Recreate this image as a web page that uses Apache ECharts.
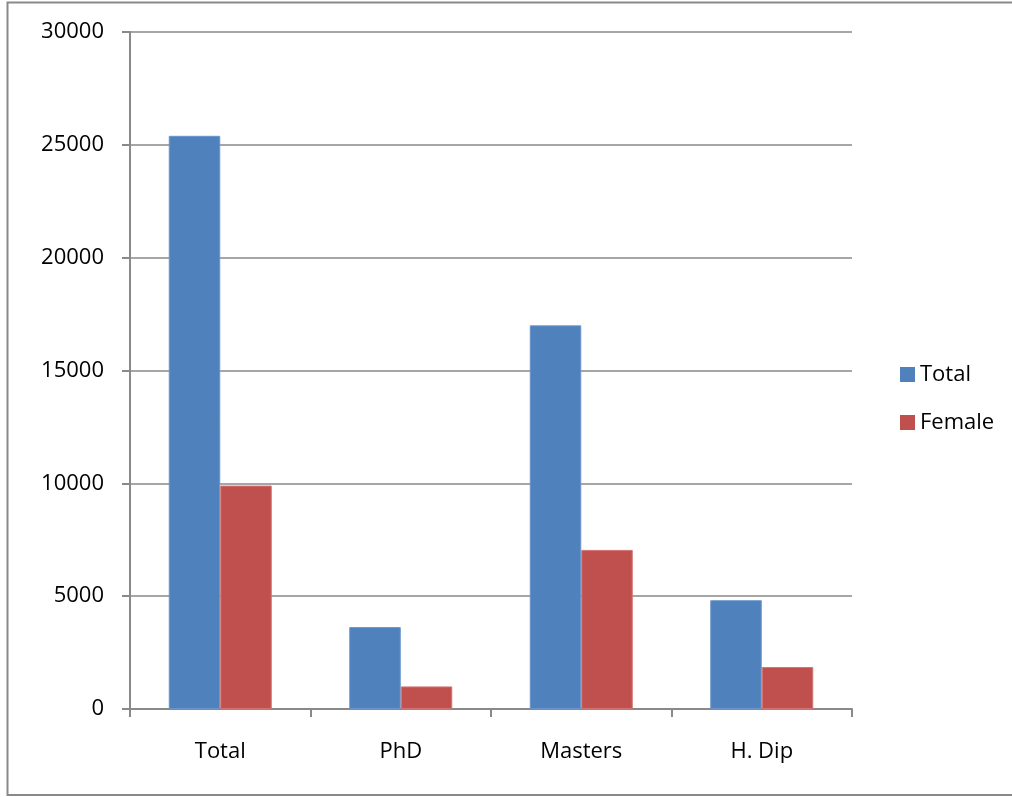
<!DOCTYPE html>
<html>
<head>
<meta charset="utf-8">
<script src="https://cdn.jsdelivr.net/npm/echarts@6/dist/echarts.min.js"></script>
<style>
  html, body { margin: 0; padding: 0; background: #fff; }
  #chart { width: 1012px; height: 797px; }
</style>
</head>
<body>
<div id="chart"></div>
<script>
// Degrees awarded, by level
const categories = ['Total', 'PhD', 'Masters', 'H. Dip'];
const totalValues = [25400, 3630, 17000, 4820];
const femaleValues = [9900, 1000, 7050, 1860];
const seriesNames = ['Total', 'Female'];

const FONT = '"Open Sans", "Noto Sans", sans-serif';
const GRID_GRAY = '#898989';

const chart = echarts.init(document.getElementById('chart'), null, { renderer: 'canvas' });

chart.setOption({
  animation: false,
  backgroundColor: '#ffffff',
  textStyle: { fontFamily: FONT, color: '#000' },
  graphic: [{
    type: 'rect',
    shape: { x: 7.5, y: 2.5, width: 1020, height: 792.5 },
    style: { fill: 'none', stroke: GRID_GRAY, lineWidth: 2 },
    silent: true
  }],
  grid: { left: 130, right: 160, top: 32, bottom: 88, containLabel: false },
  legend: {
    orient: 'vertical',
    left: 895,
    top: 'middle',
    itemWidth: 15,
    itemHeight: 15,
    itemGap: 26,
    icon: 'rect',
    itemStyle: { borderWidth: 0 },
    textStyle: { fontFamily: FONT, fontSize: 22, color: '#000' },
    data: seriesNames
  },
  xAxis: {
    type: 'category',
    data: categories,
    axisLine: { lineStyle: { color: GRID_GRAY, width: 2 } },
    axisTick: { show: true, length: 8, lineStyle: { color: GRID_GRAY, width: 2 } },
    axisLabel: { fontFamily: FONT, fontSize: 22, color: '#000', margin: 32 }
  },
  yAxis: {
    type: 'value',
    min: 0,
    max: 30000,
    interval: 5000,
    axisLine: { show: true, lineStyle: { color: GRID_GRAY, width: 2 } },
    axisTick: { show: true, length: 8, lineStyle: { color: GRID_GRAY, width: 2 } },
    splitLine: { lineStyle: { color: GRID_GRAY, width: 1.5 } },
    axisLabel: {
      fontFamily: FONT, fontSize: 22, color: '#000', margin: 26,
      formatter: v => String(v)
    }
  },
  series: [
    {
      name: seriesNames[0],
      type: 'bar',
      data: totalValues,
      barWidth: 51.5,
      barGap: '0%',
      itemStyle: { color: '#4F81BD', borderColor: '#6A95CB', borderWidth: 1 }
    },
    {
      name: seriesNames[1],
      type: 'bar',
      data: femaleValues,
      barWidth: 51.5,
      barGap: '0%',
      itemStyle: { color: '#C0504D', borderColor: '#D27472', borderWidth: 1 }
    }
  ]
});
</script>
</body>
</html>
